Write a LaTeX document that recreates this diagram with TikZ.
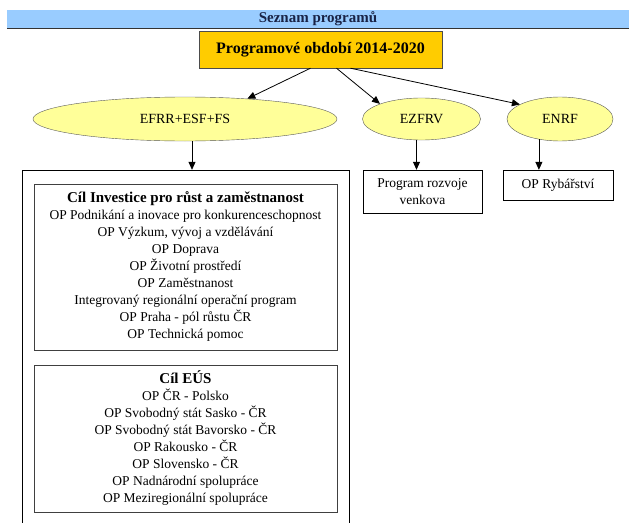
\documentclass[tikz,border=0pt]{standalone}
\usepackage{fontspec}
\setmainfont{Liberation Serif}
\usetikzlibrary{arrows.meta,shapes.geometric}

\definecolor{barblue}{RGB}{153,204,255}
\definecolor{gold}{RGB}{255,204,0}
\definecolor{paleyellow}{RGB}{255,255,153}
\definecolor{navytext}{RGB}{25,35,70}

\begin{document}
\begin{tikzpicture}[
  x=1pt, y=-1pt,
  font=\fontsize{13.5}{17}\selectfont,
  titlebar/.style={fill=barblue, minimum width=622pt, minimum height=18pt, inner sep=0pt,
                   text=navytext, font=\bfseries\fontsize{15}{15}\selectfont},
  periodbox/.style={draw=black!70, fill=gold, minimum width=243pt, minimum height=37pt,
                    inner sep=0pt, font=\bfseries\fontsize{16}{18}\selectfont},
  fund/.style={ellipse, draw=black!65, fill=paleyellow, inner sep=0pt, font=\fontsize{14}{17}\selectfont},
  frame/.style={draw=black, minimum width=327pt, inner sep=0pt},
  goalbox/.style={draw=black!75, line width=0.9pt, minimum width=303pt, align=center, inner sep=0pt},
  opbox/.style={draw=black, align=center, inner sep=0pt},
  link/.style={draw=black, line width=0.8pt, -{Triangle[length=8pt,width=7pt]}}
]
\useasboundingbox (0,0) rectangle (629,522);
\clip (0,0) rectangle (629,522);
% header and period
\node[titlebar] (seznam) at (318,19) {Seznam programů};
\draw[black!80, line width=1pt] (seznam.south west) -- (seznam.south east);
\node[periodbox] (obdobi) at (320.5,49.5) {Programové období 2014-2020};
% funds
\node[fund, minimum width=304pt, minimum height=44pt] (efrr) at (185,119) {EFRR+ESF+FS};
\node[fund, minimum width=118pt, minimum height=42pt] (ezfrv) at (421.5,119) {EZFRV};
\node[fund, minimum width=106pt, minimum height=44pt] (enrf) at (560,119) {ENRF};
% programmes
\node[frame, minimum height=370pt] (ramec) at (185.5,355) {};
\node[goalbox, minimum height=166pt] (investice) at (185.5,267) {%
  {\bfseries\fontsize{15}{17}\selectfont Cíl Investice pro růst a zaměstnanost}\\
  OP Podnikání a inovace pro konkurenceschopnost\\
  OP Výzkum, vývoj a vzdělávání\\
  OP Doprava\\
  OP Životní prostředí\\
  OP Zaměstnanost\\
  Integrovaný regionální operační program\\
  OP Praha - pól růstu ČR\\
  OP Technická pomoc};
\node[goalbox, minimum height=147pt] (eus) at (185.5,438.5) {%
  {\bfseries\fontsize{15}{17}\selectfont Cíl EÚS}\\
  OP ČR - Polsko\\
  OP Svobodný stát Sasko - ČR\\
  OP Svobodný stát Bavorsko - ČR\\
  OP Rakousko - ČR\\
  OP Slovensko - ČR\\
  OP Nadnárodní spolupráce\\
  OP Meziregionální spolupráce};
\node[opbox, minimum width=119pt, minimum height=43pt] (rozvoj) at (422.5,191.5) {Program rozvoje\\venkova};
\node[opbox, minimum width=110pt, minimum height=30pt] (rybar) at (558,185) {OP Rybářství};
% arrows
\draw[link] ([xshift=-10pt]obdobi.south) -- (efrr.18);
\draw[link] ([xshift=16pt]obdobi.south) -- (ezfrv.160);
\draw[link] ([xshift=30pt]obdobi.south) -- (enrf.160);
\draw[link] ([xshift=7pt]efrr.south) -- ([xshift=7pt]efrr.south |- ramec.north);
\draw[link] ([xshift=-5pt]ezfrv.south) -- ([xshift=-5pt]ezfrv.south |- rozvoj.north);
\draw[link] (enrf.224) -- (enrf.224 |- rybar.north);
\end{tikzpicture}
\end{document}
